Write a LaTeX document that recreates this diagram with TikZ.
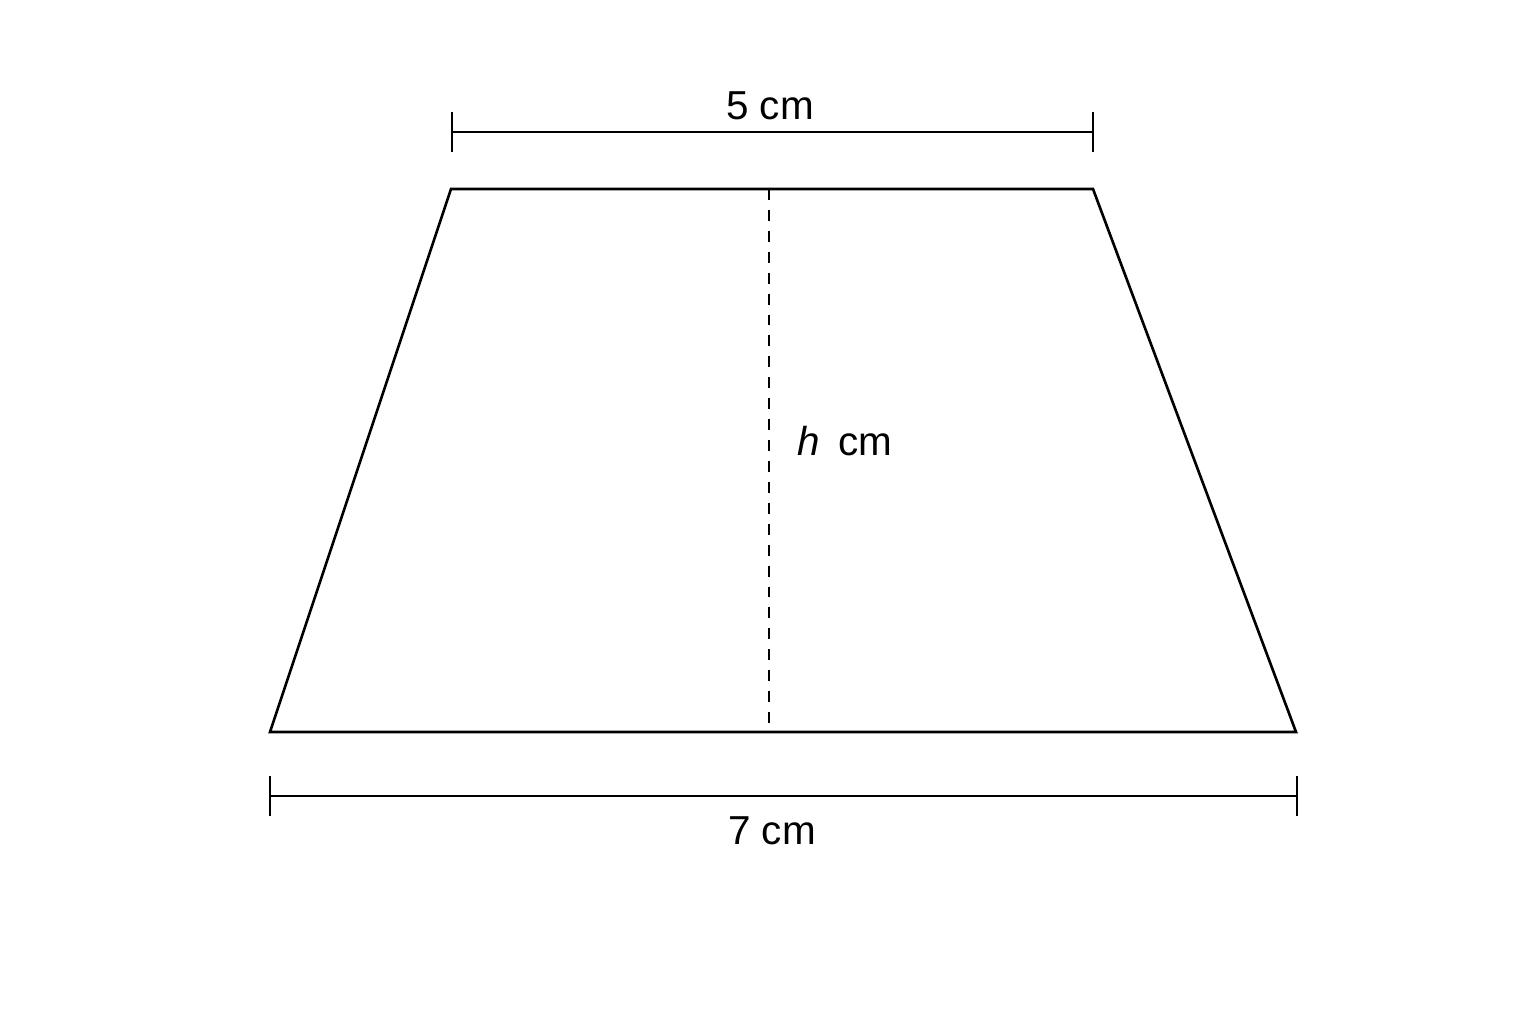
\documentclass[tikz,border=0pt]{standalone}
\usepackage{fontspec}
\setmainfont{Liberation Sans}
\begin{document}
\begin{tikzpicture}[x=0.01cm,y=-0.01cm,
  edge/.style={line width=0.75pt,line join=miter},
  dim/.style={line width=0.75pt},
  hdash/.style={line width=0.65pt,dash pattern=on 3.1pt off 2.85pt},
  lbl/.style={font=\fontsize{11.5}{14}\selectfont,inner sep=0pt}]
\useasboundingbox (0,0) rectangle (1536,1024);
\coordinate (tl) at (451,189);
\coordinate (tr) at (1093,189);
\coordinate (bl) at (270,732);
\coordinate (br) at (1296,732);
\coordinate (ht) at (769,189);
\coordinate (hb) at (769,732);
\draw[edge] (tl) -- (tr) -- (br) -- (bl) -- cycle;
\draw[hdash] (ht) -- (hb);
% top dimension
\coordinate (ta) at (452,132);
\coordinate (tb) at (1093,132);
\draw[dim] (ta) -- (tb);
\draw[dim] (ta) ++(0,-20) -- ++(0,40);
\draw[dim] (tb) ++(0,-20) -- ++(0,40);
\node[lbl] (top) at (770,106) {5 cm};
% bottom dimension
\coordinate (ba) at (270,796);
\coordinate (bb) at (1297,796);
\draw[dim] (ba) -- (bb);
\draw[dim] (ba) ++(0,-20) -- ++(0,40);
\draw[dim] (bb) ++(0,-20) -- ++(0,40);
\node[lbl] (bot) at (772,831) {7 cm};
\node[lbl] (h) at (845,441) {\textit{h}\,\ cm};
\end{tikzpicture}
\end{document}
